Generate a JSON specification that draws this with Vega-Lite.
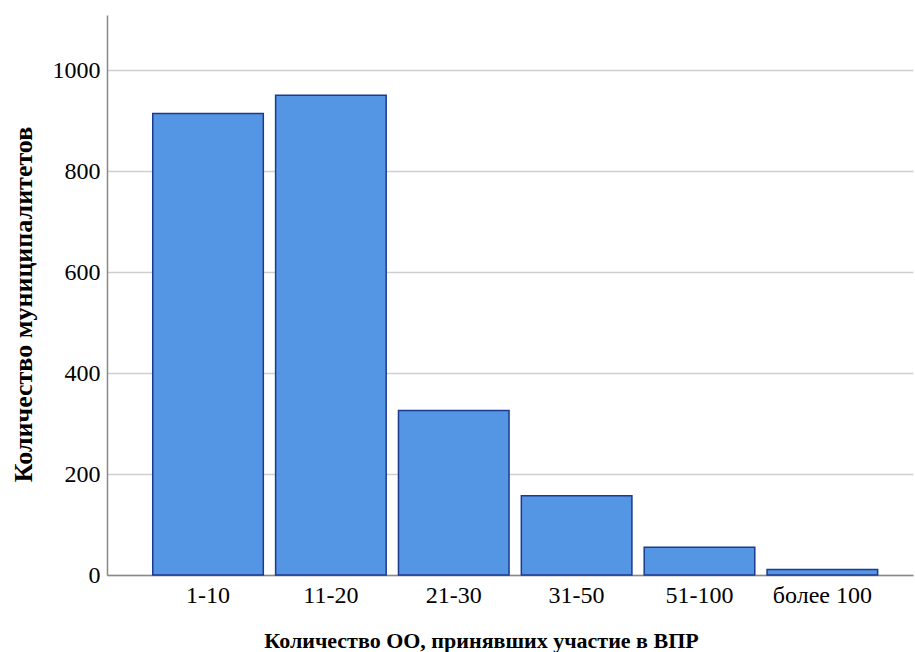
{
  "$schema": "https://vega.github.io/schema/vega-lite/v6.json",
  "width": 806,
  "height": 560,
  "autosize": {"type": "none"},
  "padding": {"left": 107, "top": 15, "right": 2, "bottom": 77},
  "background": "white",
  "data": {
    "values": [
      {"group": "1-10", "count": 914},
      {"group": "11-20", "count": 950},
      {"group": "21-30", "count": 326},
      {"group": "31-50", "count": 157},
      {"group": "51-100", "count": 55},
      {"group": "более 100", "count": 11}
    ]
  },
  "config": {
    "view": {"stroke": null},
    "font": "Liberation Serif, Times New Roman, DejaVu Serif, serif"
  },
  "mark": {"type": "bar", "fill": "#5495E4", "stroke": "#1C3A8E", "strokeWidth": 1.5},
  "encoding": {
    "x": {
      "field": "group",
      "type": "ordinal",
      "sort": null,
      "scale": {"paddingInner": 0.1, "paddingOuter": 0.33, "align": 0.564},
      "axis": {
        "title": "Количество ОО, принявших участие в ВПР",
        "titleFont": "Liberation Serif, Times New Roman, DejaVu Serif, serif",
        "titleFontSize": 22,
        "titleFontWeight": "bold",
        "titleColor": "black",
        "titlePadding": 23,
        "titleX": 374,
        "labelAngle": 0,
        "labelFont": "Liberation Serif, Times New Roman, DejaVu Serif, serif",
        "labelFontSize": 24,
        "labelColor": "black",
        "labelPadding": 8,
        "ticks": false,
        "domainColor": "#888888",
        "domainWidth": 1.5,
        "grid": false
      }
    },
    "y": {
      "field": "count",
      "type": "quantitative",
      "scale": {"domain": [0, 1109], "nice": false},
      "axis": {
        "title": "Количество муниципалитетов",
        "titleFont": "Liberation Serif, Times New Roman, DejaVu Serif, serif",
        "titleFontSize": 26,
        "titleFontWeight": "bold",
        "titleColor": "black",
        "titlePadding": 16,
        "titleY": 289,
        "values": [0, 200, 400, 600, 800, 1000],
        "format": "d",
        "labelFont": "Liberation Serif, Times New Roman, DejaVu Serif, serif",
        "labelFontSize": 24,
        "labelColor": "black",
        "labelPadding": 7,
        "ticks": false,
        "domainColor": "#888888",
        "domainWidth": 1.5,
        "grid": true,
        "gridColor": "#cfcfcf",
        "gridWidth": 1.5
      }
    }
  }
}
